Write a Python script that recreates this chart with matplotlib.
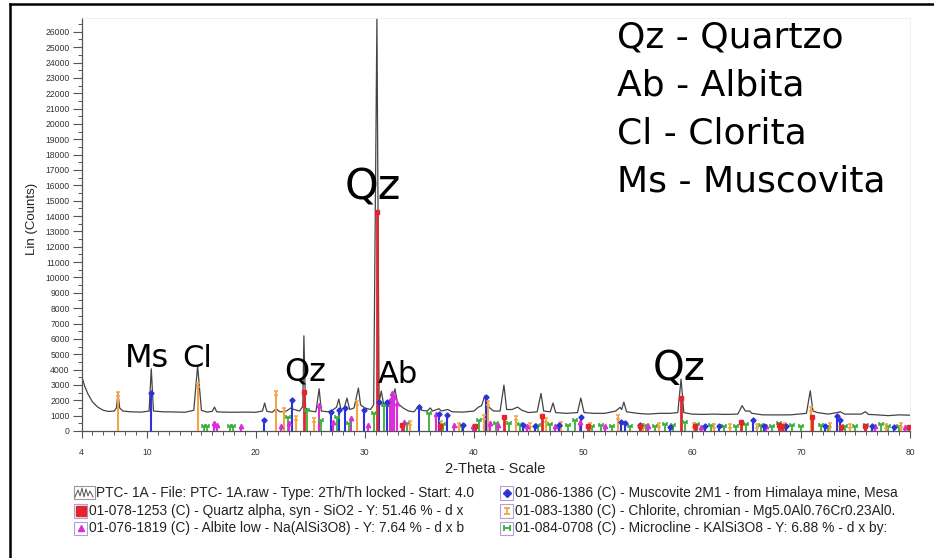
import matplotlib
matplotlib.use("Agg")
import matplotlib.pyplot as plt
from matplotlib.lines import Line2D
from matplotlib.patches import Rectangle
from matplotlib.path import Path

# ---------------- data ----------------
profile_theta = [4.0, 4.3, 4.6, 5.0, 5.5, 6.0, 6.5, 7.0, 7.2, 7.35, 7.5, 7.8, 8.5, 9.5, 10.2, 10.4, 10.6,
                 11.5, 12.5, 13.5, 14.3, 14.65, 15.0, 15.5, 16.0, 16.2, 16.4, 17.0, 18.0, 19.0, 20.0,
                 20.6, 20.8, 21.0, 21.5, 21.85, 22.2, 22.8, 23.2, 23.5, 24.0, 24.3, 24.4, 24.55, 25.0,
                 25.5, 25.8, 26.0, 26.6, 27.0, 27.4, 27.6, 27.8, 28.1, 28.35, 28.6, 29.0, 29.4, 29.6,
                 30.0, 30.5, 30.8, 31.1, 31.3, 31.5, 31.7, 32.2, 32.5, 32.75, 33.0, 33.5, 34.0, 34.5,
                 35.0, 35.2, 35.7, 36.0, 36.2, 36.8, 37.0, 37.6, 38.0, 39.0, 40.0, 40.4, 40.7, 41.0,
                 41.3, 41.8, 42.4, 42.75, 43.0, 43.5, 44.0, 44.4, 45.0, 45.8, 46.15, 46.4, 47.0, 47.25,
                 47.5, 48.5, 49.5, 49.8, 50.1, 51.0, 52.0, 53.0, 53.4, 53.55, 53.75, 54.0, 55.0, 56.0,
                 57.0, 58.0, 58.7, 59.0, 59.25, 60.0, 61.0, 62.0, 63.0, 64.2, 64.6, 64.9, 65.3, 65.5,
                 66.5, 68.0, 69.0, 70.5, 70.85, 71.1, 71.5, 72.5, 73.3, 73.6, 74.0, 75.5, 75.9, 76.2,
                 77.0, 78.0, 79.0, 80.0]
profile_counts = [3600, 2900, 2400, 1900, 1550, 1350, 1270, 1300, 1500, 2450, 1500, 1300, 1250, 1230, 1300, 4050, 1300,
                  1250, 1240, 1220, 1350, 4250, 1350, 1230, 1280, 1560, 1250, 1230, 1220, 1230, 1220,
                  1300, 1820, 1280, 1220, 1450, 1250, 1300, 1500, 1400, 1300, 1600, 6200, 1500, 1300,
                  1250, 2750, 1300, 1250, 1350, 1550, 2080, 1400, 1500, 2140, 1400, 1500, 2800, 1700,
                  1500, 1400, 1700, 26900, 1900, 2600, 1800, 1600, 2000, 2750, 1800, 1500, 1300, 1250,
                  1690, 1350, 1300, 1500, 1300, 1450, 1300, 1400, 1250, 1230, 1300, 1550, 1650, 2300,
                  1600, 1300, 1300, 2990, 1400, 1400, 1560, 1350, 1200, 1250, 2450, 1300, 1250, 1820,
                  1200, 1150, 1200, 2145, 1200, 1150, 1150, 1300, 1540, 1400, 1885, 1250, 1150, 1100,
                  1150, 1150, 1200, 3380, 1200, 1100, 1080, 1100, 1080, 1100, 1650, 1300, 1300, 1150,
                  1050, 1050, 1050, 1150, 2620, 1300, 1200, 1100, 1200, 1250, 1100, 1100, 1255, 1080,
                  1050, 1000, 1050, 1030]

quartz_theta = [24.37, 31.1, 33.4, 36.9, 40.1, 42.75, 46.2, 50.5, 55.2, 59.0, 60.3, 64.5, 68.0, 68.3, 71.0,
                73.7, 75.9, 79.9]
quartz_counts = [2560, 14235, 390, 300, 350, 890, 975, 300, 350, 2125, 300, 565, 400, 300, 890,
                 250, 300, 250]

muscovite_theta = [10.4, 20.76, 23.3, 26.86, 27.6, 28.2, 29.9, 31.3, 32.05, 35.0, 36.8, 37.5, 39.0, 41.07,
                   44.5, 45.6, 47.8, 49.85, 53.5, 53.9, 55.2, 58.0, 61.2, 62.5, 65.6, 66.6, 68.6, 72.2,
                   73.3, 73.6, 76.5, 78.5]
muscovite_counts = [2450, 715, 2010, 1250, 1370, 1500, 1370, 1900, 1900, 1580, 1100, 1050, 390, 2230,
                    400, 350, 400, 890, 600, 500, 400, 250, 300, 350, 715, 300, 300, 350,
                    975, 700, 300, 250]

chlorite_theta = [7.35, 14.65, 21.83, 22.6, 23.66, 25.3, 29.24, 34.1, 37.0, 38.6, 40.9, 41.3, 43.9, 45.1,
                  46.6, 48.0, 50.6, 53.2, 55.5, 57.0, 60.2, 62.0, 63.5, 66.0, 68.5, 70.9, 72.7, 74.5,
                  77.8, 79.2]
chlorite_counts = [2400, 3000, 2450, 1370, 850, 700, 1820, 500, 500, 400, 930, 1840, 825, 400,
                   715, 450, 400, 890, 350, 400, 400, 350, 300, 350, 400, 1430, 400, 350,
                   350, 400]

albite_theta = [16.2, 16.4, 18.6, 22.3, 23.0, 25.8, 27.1, 28.7, 30.3, 32.3, 32.5, 32.7, 32.9, 33.6, 36.5,
                38.2, 39.9, 41.5, 42.2, 44.9, 47.4, 49.7, 52.0, 56.0, 60.8, 66.8, 76.8, 79.5]
albite_counts = [500, 400, 300, 350, 500, 1690, 600, 850, 400, 2000, 2450, 2200, 1800, 600, 1100,
                 400, 300, 500, 400, 300, 350, 600, 300, 300, 250, 300, 300, 250]

microcline_theta = [15.2, 15.5, 17.6, 17.9, 22.9, 24.7, 26.0, 27.4, 28.5, 30.8, 31.76, 33.9, 35.85, 37.2,
                    38.9, 40.5, 42.0, 43.2, 44.2, 45.9, 47.0, 48.6, 49.3, 50.8, 51.7, 52.7, 54.3, 55.8,
                    56.6, 57.5, 58.3, 59.4, 60.5, 61.7, 62.9, 64.0, 65.0, 66.3, 67.3, 68.0, 69.2, 70.0,
                    71.8, 72.5, 74.0, 75.0, 76.0, 77.3, 78.0, 79.0]
microcline_counts = [300, 350, 300, 300, 900, 1370, 700, 900, 500, 1170, 1690, 500, 1170, 450,
                     400, 700, 550, 500, 450, 400, 450, 400, 715, 350, 400, 300, 350, 400,
                     350, 450, 400, 600, 450, 400, 350, 300, 450, 400, 350, 500, 400, 350,
                     400, 350, 300, 350, 400, 450, 300, 350]

peak_labels = ["Ms", "Cl", "Qz", "Qz", "Ab", "Qz"]
peak_label_theta = [10.0, 14.57, 24.48, 30.7, 33.0, 58.8]
peak_label_counts = [4170, 4170, 3260, 15050, 3130, 3300]
peak_label_sizes = [23, 22, 23, 31, 22, 29]

key_lines = ["Qz - Quartzo", "Ab - Albita", "Cl - Clorita", "Ms - Muscovita"]

legend_labels = [
    "PTC- 1A - File: PTC- 1A.raw - Type: 2Th/Th locked - Start: 4.0",
    "01-078-1253 (C) - Quartz alpha, syn - SiO2 - Y: 51.46 % - d x",
    "01-076-1819 (C) - Albite low - Na(AlSi3O8) - Y: 7.64 % - d x b",
    "01-086-1386 (C) - Muscovite 2M1 - from Himalaya mine, Mesa",
    "01-083-1380 (C) - Chlorite, chromian - Mg5.0Al0.76Cr0.23Al0.",
    "01-084-0708 (C) - Microcline - KAlSi3O8 - Y: 6.88 % - d x by:",
]

x_ticks = [4, 10, 20, 30, 40, 50, 60, 70, 80]
y_ticks = list(range(0, 26001, 1000))

# ---------------- style ----------------
W, H = 934, 558
fig = plt.figure(figsize=(W / 100, H / 100), dpi=100)
fig.patch.set_facecolor("white")

def fx(px):
    return px / W

def fy(py):
    return 1 - py / H

ax = fig.add_axes([fx(81.5), fy(431), fx(910) - fx(81.5), fy(18) - fy(431)])
ax.set_xlim(4, 80)
ax.set_ylim(0, 26900)

I_marker = Path([(-1, 1), (1, 1), (0, 1), (0, -1), (-1, -1), (1, -1)],
                [Path.MOVETO, Path.LINETO, Path.MOVETO, Path.LINETO, Path.MOVETO, Path.LINETO])
H_marker = Path([(-1, 1), (-1, -1), (1, 1), (1, -1), (-1, 0), (1, 0)],
                [Path.MOVETO, Path.LINETO, Path.MOVETO, Path.LINETO, Path.MOVETO, Path.LINETO])

c_q, c_m, c_c, c_a, c_k = "#e3262e", "#2a34d8", "#f5a343", "#d92ed9", "#35b035"

ax.plot(profile_theta, profile_counts, color="#444444", lw=0.9, zorder=2)

phases = [
    (microcline_theta, microcline_counts, c_k, H_marker, 3.2, 1.3),
    (chlorite_theta, chlorite_counts, c_c, I_marker, 3.2, 1.5),
    (albite_theta, albite_counts, c_a, "^", 3.2, 1.5),
    (muscovite_theta, muscovite_counts, c_m, "D", 2.6, 1.5),
    (quartz_theta, quartz_counts, c_q, "s", 2.8, 2.0),
]
for th, ct, col, mk, ms, lw in phases:
    ax.vlines(th, 0, ct, color=col, lw=lw, zorder=3)
    if isinstance(mk, Path):
        ax.plot(th, ct, ls="none", marker=mk, ms=ms, mec=col, mew=1.1, mfc="none", zorder=4)
    else:
        ax.plot(th, ct, ls="none", marker=mk, ms=ms, color=col, mec=col, zorder=4)

for lab, t, c, s in zip(peak_labels, peak_label_theta, peak_label_counts, peak_label_sizes):
    ax.text(t, c, lab, fontsize=s, family="DejaVu Sans", ha="center", va="baseline", color="black", zorder=6)

# axes styling
for side in ("top", "right"):
    ax.spines[side].set_color("#eeeeee")
    ax.spines[side].set_linewidth(0.6)
for side in ("left", "bottom"):
    ax.spines[side].set_color("#555555")
    ax.spines[side].set_linewidth(0.9)

ax.set_xticks(x_ticks)
ax.set_xticklabels([str(v) for v in x_ticks])
ax.set_xticks(list(range(4, 81)), minor=True)
ax.set_yticks(y_ticks)
ax.set_yticklabels([str(v) for v in y_ticks])
ax.set_yticks(list(range(500, 26900, 1000)), minor=True)
ax.tick_params(axis="both", which="major", labelsize=6.2, colors="#555555", labelcolor="#333333", width=0.8)
ax.tick_params(axis="y", which="major", length=6.5, pad=2)
ax.tick_params(axis="y", which="minor", length=3.2, color="#555555", width=0.7)
ax.tick_params(axis="x", which="major", length=5, pad=7)
ax.tick_params(axis="x", which="minor", length=3, color="#555555", width=0.7)
for lbl in ax.get_xticklabels() + ax.get_yticklabels():
    lbl.set_family("Liberation Sans")

fig.text(fx(32), fy(219), "Lin (Counts)", rotation=90, ha="center", va="center",
         fontsize=9.5, family="Liberation Sans", color="#222222")
fig.text(fx(495), fy(469), "2-Theta - Scale", ha="center", va="center",
         fontsize=10.5, family="Liberation Sans", color="#222222")

# top-right key
for i, s in enumerate(key_lines):
    fig.text(fx(617), fy(47 + 48.3 * i), s, fontsize=26, family="DejaVu Sans",
             ha="left", va="baseline", color="black")

# figure border (top and left)
fig.add_artist(Line2D([fx(10), 1], [fy(4), fy(4)], color="black", lw=1.8))
fig.add_artist(Line2D([fx(10), fx(10)], [fy(4), 0], color="black", lw=1.8))

# bottom legend
rows_y = [493, 511, 528]
legend_fs = 9.9
# spectrum icon
fig.add_artist(Rectangle((fx(74), fy(499)), fx(95) - fx(74), fy(486) - fy(499),
                         transform=fig.transFigure, fill=False, ec="#999999", lw=0.8))
fig.add_artist(Line2D([fx(v) for v in [75, 78, 80, 82, 84, 86, 88, 90, 93]],
                      [fy(v) for v in [497, 490, 496, 488, 497, 489, 496, 491, 497]],
                      color="#555555", lw=0.7))
fig.text(fx(96), fy(rows_y[0]), legend_labels[0], fontsize=legend_fs, family="Liberation Sans",
         ha="left", va="center", color="#222222")

icon_specs = [
    (74, rows_y[1], "s", c_q, legend_labels[1]),
    (74, rows_y[2], "^", c_a, legend_labels[2]),
    (500, rows_y[0], "D", c_m, legend_labels[3]),
    (500, rows_y[1], I_marker, c_c, legend_labels[4]),
    (500, rows_y[2], H_marker, c_k, legend_labels[5]),
]
for x0, yc, mk, col, lab in icon_specs:
    fig.add_artist(Rectangle((fx(x0), fy(yc + 6.5)), fx(13), fy(0) - fy(13),
                             transform=fig.transFigure, fill=False, ec="#b59bd8", lw=0.8))
    if isinstance(mk, Path):
        fig.add_artist(Line2D([fx(x0 + 6.5)], [fy(yc)], ls="none", marker=mk, ms=4.5,
                              mec=col, mfc="none", mew=1.3))
    else:
        fig.add_artist(Line2D([fx(x0 + 6.5)], [fy(yc)], ls="none", marker=mk,
                              ms=6.5 if mk == "s" else 4.5, color=col))
    fig.text(fx(x0 + 15), fy(yc), lab, fontsize=legend_fs, family="Liberation Sans",
             ha="left", va="center", color="#222222")

fig.savefig("out.png", dpi=100, facecolor="white")
